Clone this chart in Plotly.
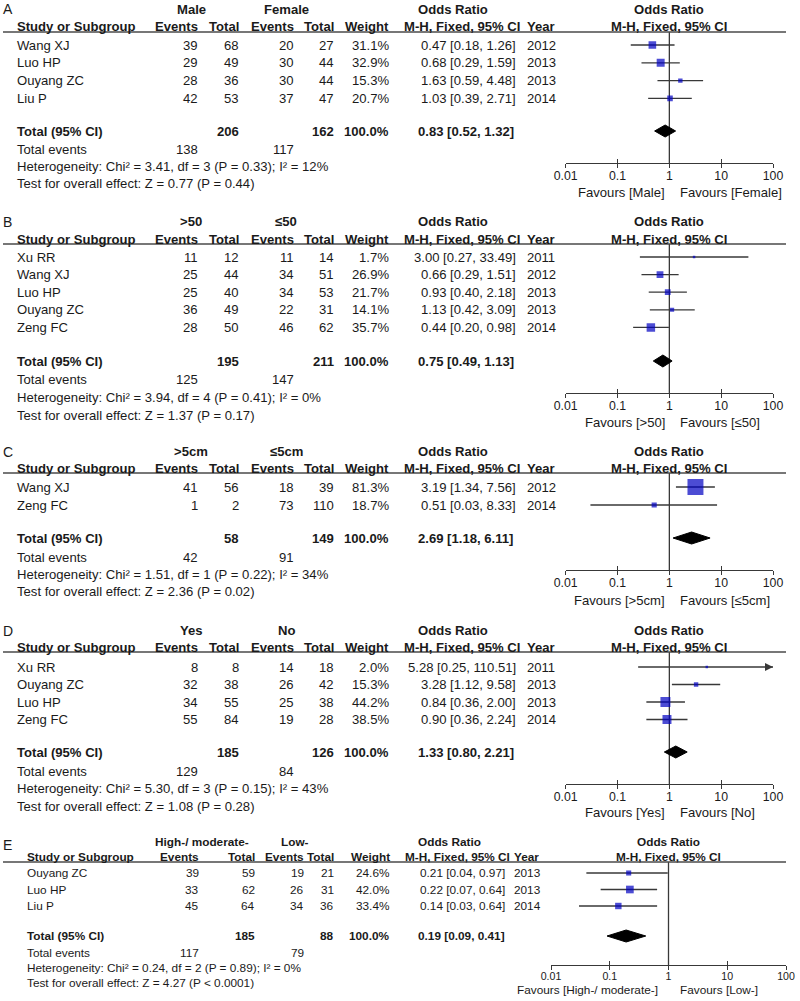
import plotly.graph_objects as go

W, H = 800, 1001

# ---------------- data ----------------
A_groups = ["Male", "Female"]
A_studies = ["Wang XJ", "Luo HP", "Ouyang ZC", "Liu P"]
A_ev1 = [39, 29, 28, 42]
A_tot1 = [68, 49, 36, 53]
A_ev2 = [20, 30, 30, 37]
A_tot2 = [27, 44, 44, 47]
A_weight = [31.1, 32.9, 15.3, 20.7]
A_or = [0.47, 0.68, 1.63, 1.03]
A_lo = [0.18, 0.29, 0.59, 0.39]
A_hi = [1.26, 1.59, 4.48, 2.71]
A_year = [2012, 2013, 2013, 2014]
A_total = [206, 162]
A_events = [138, 117]
A_pooled = [0.83, 0.52, 1.32]
A_het = [3.41, 3, 0.33, 12]
A_z = [0.77, 0.44]

B_groups = [">50", "≤50"]
B_studies = ["Xu RR", "Wang XJ", "Luo HP", "Ouyang ZC", "Zeng FC"]
B_ev1 = [11, 25, 25, 36, 28]
B_tot1 = [12, 44, 40, 49, 50]
B_ev2 = [11, 34, 34, 22, 46]
B_tot2 = [14, 51, 53, 31, 62]
B_weight = [1.7, 26.9, 21.7, 14.1, 35.7]
B_or = [3.00, 0.66, 0.93, 1.13, 0.44]
B_lo = [0.27, 0.29, 0.40, 0.42, 0.20]
B_hi = [33.49, 1.51, 2.18, 3.09, 0.98]
B_year = [2011, 2012, 2013, 2013, 2014]
B_total = [195, 211]
B_events = [125, 147]
B_pooled = [0.75, 0.49, 1.13]
B_het = [3.94, 4, 0.41, 0]
B_z = [1.37, 0.17]

C_groups = [">5cm", "≤5cm"]
C_studies = ["Wang XJ", "Zeng FC"]
C_ev1 = [41, 1]
C_tot1 = [56, 2]
C_ev2 = [18, 73]
C_tot2 = [39, 110]
C_weight = [81.3, 18.7]
C_or = [3.19, 0.51]
C_lo = [1.34, 0.03]
C_hi = [7.56, 8.33]
C_year = [2012, 2014]
C_total = [58, 149]
C_events = [42, 91]
C_pooled = [2.69, 1.18, 6.11]
C_het = [1.51, 1, 0.22, 34]
C_z = [2.36, 0.02]

D_groups = ["Yes", "No"]
D_studies = ["Xu RR", "Ouyang ZC", "Luo HP", "Zeng FC"]
D_ev1 = [8, 32, 34, 55]
D_tot1 = [8, 38, 55, 84]
D_ev2 = [14, 26, 25, 19]
D_tot2 = [18, 42, 38, 28]
D_weight = [2.0, 15.3, 44.2, 38.5]
D_or = [5.28, 3.28, 0.84, 0.90]
D_lo = [0.25, 1.12, 0.36, 0.36]
D_hi = [110.51, 9.58, 2.00, 2.24]
D_year = [2011, 2013, 2013, 2014]
D_total = [185, 126]
D_events = [129, 84]
D_pooled = [1.33, 0.80, 2.21]
D_het = [5.30, 3, 0.15, 43]
D_z = [1.08, 0.28]

E_groups = ["High-/ moderate-", "Low-"]
E_studies = ["Ouyang ZC", "Luo HP", "Liu P"]
E_ev1 = [39, 33, 45]
E_tot1 = [59, 62, 64]
E_ev2 = [19, 26, 34]
E_tot2 = [21, 31, 36]
E_weight = [24.6, 42.0, 33.4]
E_or = [0.21, 0.22, 0.14]
E_lo = [0.04, 0.07, 0.03]
E_hi = [0.97, 0.64, 0.64]
E_year = [2013, 2013, 2014]
E_total = [185, 88]
E_events = [117, 79]
E_pooled = [0.19, 0.09, 0.41]
E_het = [0.24, 2, 0.89, 0]
E_z = [4.27, 0.00002]

TICK_VALS = [0.01, 0.1, 1, 10, 100]
TICK_TEXT = ["0.01", "0.1", "1", "10", "100"]

PANELS = [
    ("A", A_groups, A_studies, A_ev1, A_tot1, A_ev2, A_tot2, A_weight, A_or, A_lo, A_hi, A_year, A_total, A_events, A_pooled, A_het, A_z),
    ("B", B_groups, B_studies, B_ev1, B_tot1, B_ev2, B_tot2, B_weight, B_or, B_lo, B_hi, B_year, B_total, B_events, B_pooled, B_het, B_z),
    ("C", C_groups, C_studies, C_ev1, C_tot1, C_ev2, C_tot2, C_weight, C_or, C_lo, C_hi, C_year, C_total, C_events, C_pooled, C_het, C_z),
    ("D", D_groups, D_studies, D_ev1, D_tot1, D_ev2, D_tot2, D_weight, D_or, D_lo, D_hi, D_year, D_total, D_events, D_pooled, D_het, D_z),
    ("E", E_groups, E_studies, E_ev1, E_tot1, E_ev2, E_tot2, E_weight, E_or, E_lo, E_hi, E_year, E_total, E_events, E_pooled, E_het, E_z),
]

# ---------------- layout geometry (pixels) ----------------
COL_AD = dict(name_x=17, c_ev1=198, c_tot1=239, c_ev2=294, c_tot2=334, c_w=389, g1=191, g2=286,
              or_hdr=453, mh_left=404, year_left=527, ci_right=516, pooled_left=418,
              f0=565.7, f1=773, fav_r=665, fav_l=680, fs=13.1, tfs=12.3, sq=1.0)
COL_E = dict(name_x=27, c_ev1=199, c_tot1=255, c_ev2=304, c_tot2=334, c_w=390, g1=202, g2=295,
             or_hdr=449, mh_left=405, year_left=514, ci_right=505, pooled_left=418,
             f0=551, f1=786, fav_r=658, fav_l=680, fs=11.8, tfs=10.6, sq=0.8)
VPOS = {
    "A": dict(let=9, h1=9, h2=26, ul=32, row0=45, step=17.8, tot=131, tev=149, het=166, test=183, axis=163, fav=192),
    "B": dict(let=222, h1=221, h2=239, ul=244, row0=257, step=17.6, tot=361, tev=379, het=397, test=415, axis=393, fav=422),
    "C": dict(let=452, h1=451, h2=468, ul=473, row0=487, step=18.0, tot=538, tev=557, het=574, test=591, axis=570, fav=600),
    "D": dict(let=631, h1=630, h2=647, ul=652, row0=667, step=17.5, tot=752, tev=771, het=788, test=806, axis=784, fav=812),
    "E": dict(let=845, h1=842, h2=857, ul=862, row0=873, step=16.5, tot=936, tev=953, het=968, test=983, axis=965, fav=990),
}

FONT = "Liberation Sans, Arial, Helvetica, sans-serif"
TXT = "#1a1a1a"
LINE = "#383838"
BLUE = "#0000c2"

fig = go.Figure()
annotations = []
shapes = []
layout_axes = {}


def text(x, y, s, anchor="left", size=13.1, bold=False):
    annotations.append(dict(
        x=x / W, xref="paper", y=y, yref="y",
        text=f"<b>{s}</b>" if bold else s, showarrow=False,
        xanchor=anchor, yanchor="middle", borderpad=0, borderwidth=0,
        font=dict(family=FONT, size=size, color=TXT)))


def pfmt(p):
    return "P < 0.0001" if p < 0.0001 else f"P = {p:.2f}"


for i, (letter, groups, studies, ev1, tot1, ev2, tot2, weight, orv, lo, hi, year,
        total, events, pooled, het, zz) in enumerate(PANELS, start=1):
    c = COL_E if letter == "E" else COL_AD
    v = VPOS[letter]
    fs = c["fs"]
    xa = "x" if i == 1 else f"x{i}"
    ov = f"x{i + 5}"

    # headers
    text(3, v["let"], letter, size=14)
    text(c["g1"], v["h1"], groups[0], "center", fs, True)
    text(c["g2"], v["h1"], groups[1], "center", fs, True)
    text(c["or_hdr"], v["h1"], "Odds Ratio", "center", fs, True)
    fmid = (c["f0"] + c["f1"]) / 2
    text(fmid, v["h1"], "Odds Ratio", "center", fs, True)
    text(c["name_x"], v["h2"], "Study or Subgroup", "left", fs, True)
    text(c["c_ev1"], v["h2"], "Events", "right", fs, True)
    text(c["c_tot1"], v["h2"], "Total", "right", fs, True)
    text(c["c_ev2"], v["h2"], "Events", "right", fs, True)
    text(c["c_tot2"], v["h2"], "Total", "right", fs, True)
    text(c["c_w"], v["h2"], "Weight", "right", fs, True)
    text(c["mh_left"], v["h2"], "M-H, Fixed, 95% CI", "left", fs, True)
    text(c["year_left"], v["h2"], "Year", "left", fs, True)
    text(fmid, v["h2"], "M-H, Fixed, 95% CI", "center", fs, True)
    shapes.append(dict(type="line", xref="paper", yref="y", x0=3 / W, x1=786 / W,
                       y0=v["ul"], y1=v["ul"], line=dict(color="#4a4a4a", width=1.6)))

    # study rows
    ys = [v["row0"] + k * v["step"] for k in range(len(studies))]
    for k, y in enumerate(ys):
        text(c["name_x"], y, studies[k], "left", fs)
        text(c["c_ev1"], y, str(ev1[k]), "right", fs)
        text(c["c_tot1"], y, str(tot1[k]), "right", fs)
        text(c["c_ev2"], y, str(ev2[k]), "right", fs)
        text(c["c_tot2"], y, str(tot2[k]), "right", fs)
        text(c["c_w"], y, f"{weight[k]:.1f}%", "right", fs)
        text(c["ci_right"], y, f"{orv[k]:.2f} [{lo[k]:.2f}, {hi[k]:.2f}]", "right", fs)
        text(c["year_left"], y, str(year[k]), "left", fs)

    # totals
    text(c["name_x"], v["tot"], "Total (95% CI)", "left", fs, True)
    text(c["c_tot1"], v["tot"], str(total[0]), "right", fs, True)
    text(c["c_tot2"], v["tot"], str(total[1]), "right", fs, True)
    text(c["c_w"], v["tot"], "100.0%", "right", fs, True)
    text(c["pooled_left"], v["tot"], f"{pooled[0]:.2f} [{pooled[1]:.2f}, {pooled[2]:.2f}]", "left", fs, True)
    text(c["name_x"], v["tev"], "Total events", "left", fs)
    text(c["c_ev1"], v["tev"], str(events[0]), "right", fs)
    text(c["c_ev2"], v["tev"], str(events[1]), "right", fs)
    text(c["name_x"], v["het"],
         f"Heterogeneity: Chi² = {het[0]:.2f}, df = {het[1]} ({pfmt(het[2])}); I² = {het[3]}%", "left", fs)
    text(c["name_x"], v["test"], f"Test for overall effect: Z = {zz[0]:.2f} ({pfmt(zz[1])})", "left", fs)

    # favours labels
    text(c["fav_r"], v["fav"], f"Favours [{groups[0]}]", "right", fs)
    text(c["fav_l"], v["fav"], f"Favours [{groups[1]}]", "left", fs)

    # forest: reference line at OR = 1
    fig.add_trace(go.Scatter(x=[1, 1], y=[v["ul"], v["axis"]], xaxis=xa, yaxis="y", mode="lines",
                             line=dict(color=LINE, width=1.3), hoverinfo="skip", showlegend=False))
    # CI lines
    cx, cy = [], []
    for k, y in enumerate(ys):
        cx += [lo[k], hi[k], None]
        cy += [y, y, None]
    fig.add_trace(go.Scatter(x=cx, y=cy, xaxis=xa, yaxis="y", mode="lines",
                             line=dict(color=LINE, width=1.3), hoverinfo="skip", showlegend=False))
    # arrows for CIs beyond the axis range
    ax_ = [100 for k in range(len(ys)) if hi[k] > 100]
    ay_ = [ys[k] for k in range(len(ys)) if hi[k] > 100]
    if ax_:
        fig.add_trace(go.Scatter(x=ax_, y=ay_, xaxis=xa, yaxis="y", mode="markers", cliponaxis=False,
                                 marker=dict(symbol="arrow-right", size=8, color=LINE),
                                 hoverinfo="skip", showlegend=False))
    # weighted squares
    sizes = [max(2.5, 0.54 * w ** 0.77) * c["sq"] for w in weight]
    fig.add_trace(go.Scatter(x=orv, y=ys, xaxis=xa, yaxis="y", mode="markers",
                             marker=dict(symbol="square", size=sizes, color=BLUE, line=dict(width=0)),
                             hoverinfo="skip", showlegend=False))
    # pooled diamond
    dy = 6
    fig.add_trace(go.Scatter(x=[pooled[1], pooled[0], pooled[2], pooled[0], pooled[1]],
                             y=[v["tot"], v["tot"] - dy, v["tot"], v["tot"] + dy, v["tot"]],
                             xaxis=xa, yaxis="y", mode="lines", fill="toself", fillcolor="#000000",
                             line=dict(color="#000000", width=1), hoverinfo="skip", showlegend=False))
    # invisible trace for the overlay tick axis
    fig.add_trace(go.Scatter(x=[1], y=[v["axis"]], xaxis=ov, yaxis="y", mode="markers",
                             marker=dict(opacity=0), hoverinfo="skip", showlegend=False))

    pos = 1 - v["axis"] / H
    main_name = "xaxis" if i == 1 else f"xaxis{i}"
    layout_axes[main_name] = dict(
        type="log", range=[-2, 2], domain=[c["f0"] / W, c["f1"] / W], anchor="free", position=pos,
        showline=True, linecolor=LINE, linewidth=1.3, ticks="outside", ticklen=4, tickwidth=1.3,
        tickcolor=LINE, tickvals=TICK_VALS, ticktext=TICK_TEXT, showgrid=False, zeroline=False,
        ticklabelstandoff=-3,
        automargin=False, tickfont=dict(family=FONT, size=c["tfs"], color=TXT), fixedrange=True)
    layout_axes[f"xaxis{i + 5}"] = dict(
        type="log", range=[-2, 2], overlaying=xa, anchor="free", position=pos,
        showline=False, ticks="inside", ticklen=4, tickwidth=1.3, tickcolor=LINE, automargin=False,
        tickvals=TICK_VALS, showticklabels=False, showgrid=False, zeroline=False, fixedrange=True)

fig.update_layout(
    template="none",
    width=W, height=H, margin=dict(l=0, r=0, t=0, b=0, pad=0, autoexpand=False),
    paper_bgcolor="white", plot_bgcolor="rgba(0,0,0,0)",
    yaxis=dict(domain=[0, 1], range=[H, 0], visible=False, showticklabels=False,
               automargin=False, fixedrange=True),
    annotations=annotations, shapes=shapes, showlegend=False,
    **layout_axes,
)

fig.write_html("out.html", config={"displayModeBar": False},
               post_script="document.body.style.margin='0px';")
